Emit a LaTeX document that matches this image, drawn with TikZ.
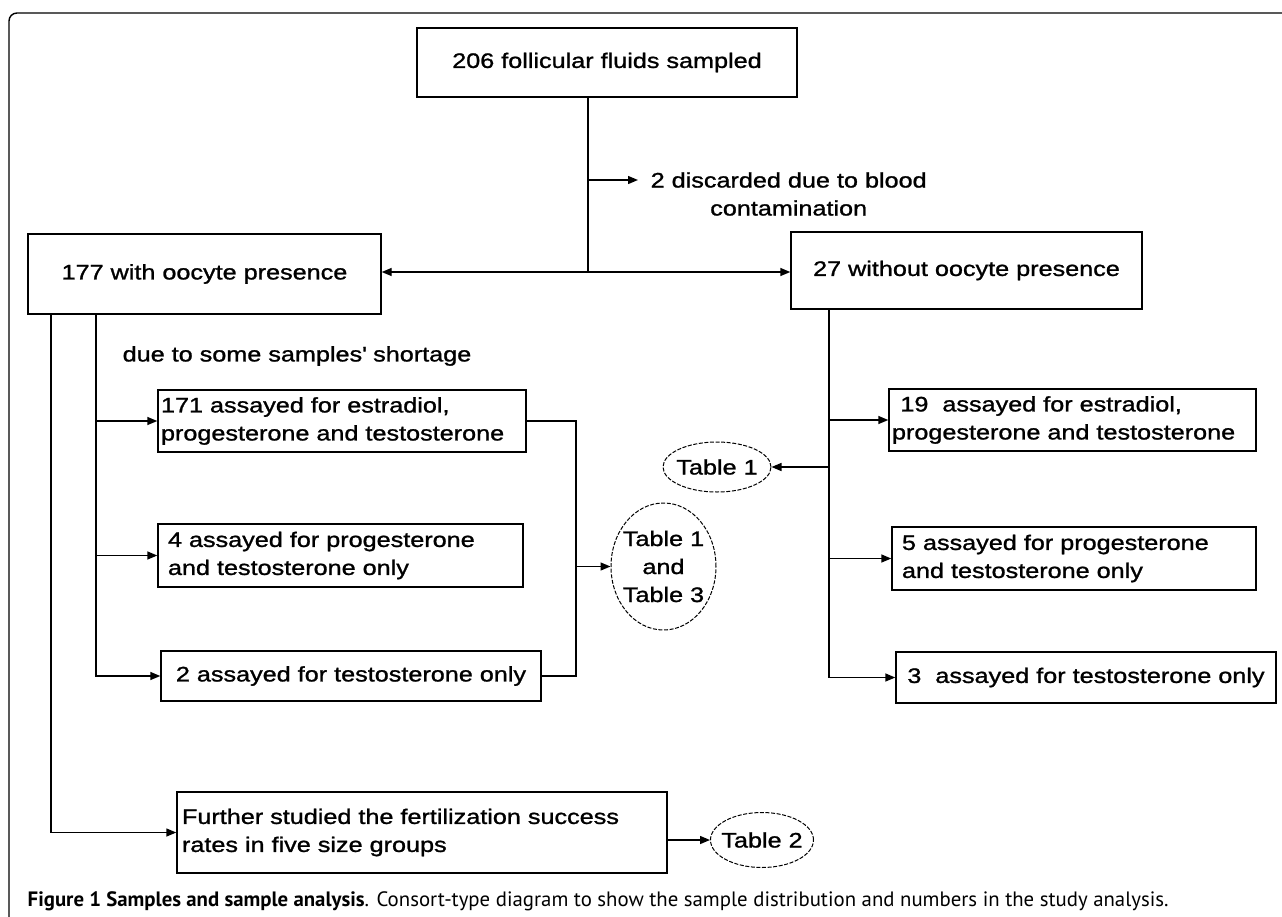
\documentclass[tikz,border=0pt]{standalone}
\usepackage{fontspec}
\setmainfont{Liberation Sans}[FakeStretch=1.2, FakeBold=1.2]
\newfontfamily\capfont{PT Sans}
\usetikzlibrary{arrows.meta,shapes.geometric}

\begin{document}
\begin{tikzpicture}[x=0.5pt, y=-0.5pt, line width=0.7pt,
    box/.style={draw, rectangle, inner ysep=0pt, font=\fontsize{10.5}{14}\selectfont},
    tab/.style={draw, ellipse, dash pattern=on 2pt off 0.8pt, line width=0.5pt, inner sep=-3pt, align=center, font=\fontsize{10.5}{14}\selectfont},
    lab/.style={inner sep=0pt, font=\fontsize{10.5}{14}\selectfont},
    arr/.style={-{Triangle[length=5pt,width=4pt]}}]
    \useasboundingbox (0,0) rectangle (1282,917);

    % 枠を描画
    \draw[rounded corners=4pt] (9,13) rectangle (1300,930);

    % ノードを描画
    \node[box, minimum width=190pt, minimum height=34.5pt] (f206) at (607,62.5) {206 follicular fluids sampled};
    \node[box, minimum width=176.5pt, minimum height=40pt] (w177) at (204.5,274) {177 with oocyte presence};
    \node[box, minimum width=175.5pt, minimum height=38.5pt] (wo27) at (966.5,270.5) {27 without oocyte presence};
    \node[lab, anchor=west, align=center] (disc) at (650,194) {2 discarded due to blood\\contamination};
    \node[lab, anchor=west] (short) at (122,356) {due to some samples\textquotesingle{} shortage};

    \node[box, align=left, text width=181pt, inner xsep=1.5pt, minimum height=31pt] (e171) at (342,421) {171 assayed for estradiol,\\progesterone and testosterone};
    \node[box, align=left, text width=172.5pt, inner xsep=5pt, minimum height=31.5pt] (p4) at (340.5,555.5) {4 assayed for progesterone\\and testosterone only};
    \node[box, minimum width=190pt, minimum height=25pt] (t2s) at (351,676) {2 assayed for testosterone only};

    \node[box, align=left, text width=180.5pt, inner xsep=1.5pt, minimum height=31pt] (e19) at (1072.5,420) {\hspace*{0.4em}19~ assayed for estradiol,\\progesterone and testosterone};
    \node[box, align=left, text width=172pt, inner xsep=5pt, minimum height=31.5pt] (p5) at (1074,558.5) {5 assayed for progesterone\\and testosterone only};
    \node[box, minimum width=190pt, minimum height=25.5pt] (t3s) at (1086,677.5) {3~ assayed for testosterone only};

    \node[box, align=left, text width=240pt, inner xsep=2.5pt, minimum height=40.5pt] (fur) at (422,832.5) {Further studied the fertilization success\\rates in five size groups};

    \node[tab, minimum width=52.5pt, minimum height=63.5pt] (tb13) at (663.5,566.5) {Table 1\\and\\Table 3};
    \node[tab, minimum width=54pt, minimum height=25pt] (tb1) at (717,467) {Table 1};
    \node[tab, minimum width=51.5pt, minimum height=27.5pt] (tb2) at (762,840) {Table 2};

    \node[inner sep=0pt, anchor=west] (cap) at (27,901) {\capfont\fontsize{10.4}{12}\selectfont\textbf{Figure 1 Samples and sample analysis}. Consort-type diagram to show the sample distribution and numbers in the study analysis.};

    % エッジを描画
    \coordinate (jt) at (588,272);
    \coordinate (jd) at (588,180);
    \draw (f206.south -| jt) -- (jt);
    \draw[arr, shorten >=6pt] (jd) -- (jd -| disc.west);
    \draw[arr] (jt) -- (jt -| w177.east);
    \draw[arr] (jt) -- (jt -| wo27.west);

    \coordinate (lo) at (51,314);
    \coordinate (li) at (96,314);
    \draw[arr] (lo) |- (fur.west);
    \draw[arr] (li) |- (t2s.west);
    \draw[arr] (li |- e171.west) -- (e171.west);
    \draw[arr] (li |- p4.west) -- (p4.west);

    \coordinate (rj) at (576,676);
    \draw (e171.east) -| (rj) -- (t2s.east);
    \draw[arr] (rj |- tb13.west) -- (tb13.west);

    \coordinate (ri) at (829,309);
    \draw[arr] (ri) |- (t3s.west);
    \draw[arr] (ri |- e19.west) -- (e19.west);
    \draw[arr] (ri |- p5.west) -- (p5.west);
    \draw[arr] (ri |- tb1.east) -- (tb1.east);

    \draw[arr] (fur.east |- tb2.west) -- (tb2.west);
\end{tikzpicture}
\end{document}
